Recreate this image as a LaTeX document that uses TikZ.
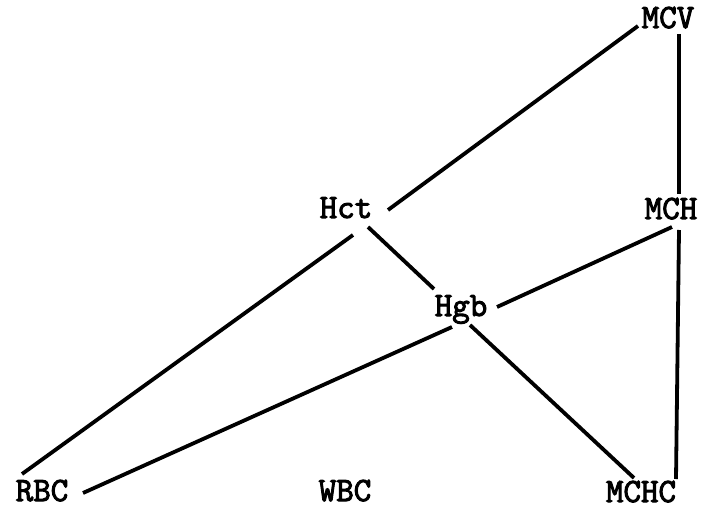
\documentclass[tikz,border=0pt]{standalone}
\usepackage{fontspec}
\newfontfamily\labfont[FakeBold=3]{Latin Modern Mono}
\begin{document}
\begin{tikzpicture}[x=1pt,y=-1pt,
  lab/.style={anchor=base,inner sep=0pt,font=\labfont\fontsize{34}{34}\selectfont},
  edge/.style={line width=3.8pt,line cap=butt}]
\useasboundingbox (0,0) rectangle (703,510);
\node[lab] (MCV)  at (668,28)  {MCV};
\node[lab] (Hct)  at (346,218) {Hct};
\node[lab] (MCH)  at (671,219) {MCH};
\node[lab] (Hgb)  at (461,316) {Hgb};
\node[lab] (RBC)  at (42,501)  {RBC};
\node[lab] (WBC)  at (345,501) {WBC};
\node[lab] (MCHC) at (641,502) {MCHC};
\draw[edge] ([shift={(-30,-2)}]MCV.base) -- ([shift={(42,-8)}]Hct.base);
\draw[edge] ([shift={(11,6)}]MCV.base) -- ([shift={(8,-25)}]MCH.base);
\draw[edge] ([shift={(8,11)}]MCH.base) -- ([shift={(35,-23)}]MCHC.base);
\draw[edge] ([shift={(22,9)}]Hct.base) -- ([shift={(-27,-27)}]Hgb.base);
\draw[edge] ([shift={(7,17)}]Hct.base) -- ([shift={(-20,-27)}]RBC.base);
\draw[edge] ([shift={(-9,11)}]Hgb.base) -- ([shift={(41,-8)}]RBC.base);
\draw[edge] ([shift={(36,-9)}]Hgb.base) -- ([shift={(1,8)}]MCH.base);
\draw[edge] ([shift={(9,9)}]Hgb.base) -- ([shift={(-7,-24)}]MCHC.base);
\end{tikzpicture}
\end{document}
